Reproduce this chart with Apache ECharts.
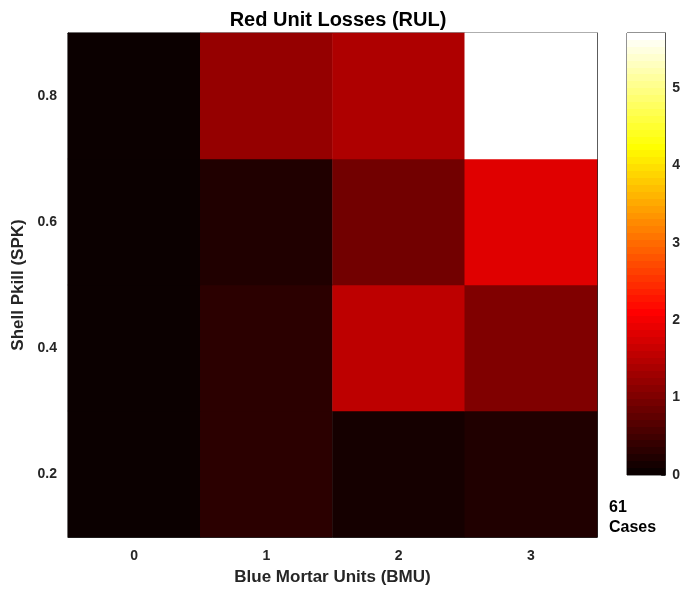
<!DOCTYPE html>
<html><head><meta charset="utf-8">
<script src="https://cdn.jsdelivr.net/npm/echarts@6/dist/echarts.min.js"></script>
<style>html,body{margin:0;padding:0;background:#fff}#c{width:683px;height:596px}</style>
</head><body><div id="c"></div>
<script>
const bmuCategories = ['0', '1', '2', '3'];
const spkCategories = ['0.2', '0.4', '0.6', '0.8'];
const rulSpk02 = [0.00, 0.27, 0.09, 0.18];
const rulSpk04 = [0.00, 0.27, 1.52, 1.00];
const rulSpk06 = [0.00, 0.18, 0.88, 1.82];
const rulSpk08 = [0.00, 1.18, 1.39, 5.71];
const colorbarTicks = [0, 1, 2, 3, 4, 5];
const caseCount = 61;

const rows = [rulSpk02, rulSpk04, rulSpk06, rulSpk08];
const data = [];
rows.forEach((row, yi) => row.forEach((v, xi) => data.push([xi, yi, v])));
const vmax = Math.max(...rows.flat());

// MATLAB "hot" colormap (64 entries)
const hot = [];
for (let i = 1; i <= 64; i++) {
  const r = Math.min(1, i / 24), g = Math.min(1, Math.max(0, (i - 24) / 24)), b = Math.max(0, (i - 48) / 16);
  hot.push('rgb(' + Math.round(r * 255) + ',' + Math.round(g * 255) + ',' + Math.round(b * 255) + ')');
}
const stops = [];
hot.forEach((c, i) => { stops.push({offset: i / 64, color: c}); stops.push({offset: (i + 1) / 64, color: c}); });

const FONT = 'Liberation Sans, Arial, Helvetica, sans-serif';
const TXT = '#262626';
const lbl = {fontFamily: FONT, fontWeight: 'bold', fontSize: 14, color: TXT};
const nameStyle = {fontFamily: FONT, fontWeight: 'bold', fontSize: 17, color: TXT};

const chart = echarts.init(document.getElementById('c'), null, {renderer: 'canvas'});
chart.setOption({
  animation: false,
  backgroundColor: '#fff',
  title: {
    text: 'Red Unit Losses (RUL)', left: 333, top: 5, textAlign: 'center',
    textStyle: {fontFamily: FONT, fontWeight: 'bold', fontSize: 20, color: '#000'}
  },
  grid: [
    {left: 68, top: 33, width: 529, height: 504, show: true, borderColor: TXT, borderWidth: 1, backgroundColor: 'transparent'},
    {left: 627, top: 33, width: 39, height: 442, show: true, borderColor: TXT, borderWidth: 1, backgroundColor: 'transparent'}
  ],
  xAxis: [
    {type: 'category', gridIndex: 0, data: bmuCategories, position: 'bottom',
      axisLine: {show: true, lineStyle: {color: TXT}},
      axisTick: {show: true, inside: true, alignWithLabel: true, length: 5, lineStyle: {color: TXT}},
      axisLabel: Object.assign({margin: 12}, lbl), splitLine: {show: false},
      name: 'Blue Mortar Units (BMU)', nameLocation: 'middle', nameGap: 32, nameTextStyle: nameStyle},
    {type: 'category', gridIndex: 0, data: bmuCategories, position: 'top',
      axisLine: {show: true, lineStyle: {color: TXT}},
      axisTick: {show: true, inside: true, alignWithLabel: true, length: 5, lineStyle: {color: TXT}},
      axisLabel: {show: false}, splitLine: {show: false}},
    {type: 'category', gridIndex: 1, data: ['cb'], show: false}
  ],
  yAxis: [
    {type: 'category', gridIndex: 0, data: spkCategories, position: 'left',
      axisLine: {show: true, lineStyle: {color: TXT}},
      axisTick: {show: true, inside: true, alignWithLabel: true, length: 5, lineStyle: {color: TXT}},
      axisLabel: Object.assign({margin: 11}, lbl), splitLine: {show: false},
      name: 'Shell Pkill (SPK)', nameLocation: 'middle', nameGap: 35, nameTextStyle: nameStyle},
    {type: 'category', gridIndex: 0, data: spkCategories, position: 'right',
      axisLine: {show: true, lineStyle: {color: TXT}},
      axisTick: {show: true, inside: true, alignWithLabel: true, length: 5, lineStyle: {color: TXT}},
      axisLabel: {show: false}, splitLine: {show: false}},
    {type: 'value', gridIndex: 1, min: 0, max: vmax, interval: 1, position: 'right',
      axisLine: {show: true, lineStyle: {color: TXT}},
      axisTick: {show: true, inside: true, length: 4, lineStyle: {color: TXT}},
      axisLabel: Object.assign({margin: 7, formatter: v => colorbarTicks.includes(v) ? String(v) : ''}, lbl),
      splitLine: {show: false}}
  ],
  visualMap: {type: 'continuous', show: false, min: 0, max: vmax, dimension: 2, seriesIndex: 0, inRange: {color: hot}},
  series: [
    {type: 'heatmap', xAxisIndex: 0, yAxisIndex: 0, data: data, label: {show: false}, emphasis: {disabled: true}, z: 1},
    {type: 'bar', xAxisIndex: 2, yAxisIndex: 2, data: [vmax], barWidth: '100%', silent: true,
      itemStyle: {color: new echarts.graphic.LinearGradient(0, 1, 0, 0, stops)}}
  ],
  graphic: [
    {type: 'text', left: 609, top: 498, style: {text: caseCount + '\nCases', fontFamily: FONT, fontWeight: 'bold', fontSize: 16, lineHeight: 20, fill: '#000'}}
  ]
});
</script></body></html>
